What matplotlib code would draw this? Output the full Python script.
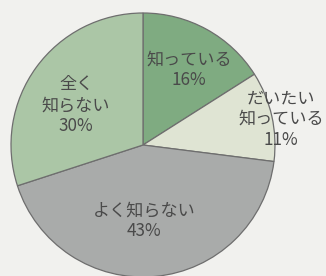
import matplotlib
matplotlib.use("Agg")
import matplotlib.pyplot as plt

plt.rcParams['font.family'] = ['Noto Sans CJK JP', 'DejaVu Sans']

# データ（12時の位置から時計回り）
labels = ['知っている', 'だいたい\n知っている', 'よく知らない', '全く\n知らない']
values = [16, 11, 43, 30]
colors = ['#7fab81', '#dfe4d3', '#a9abaa', '#abc6a6']

# ラベルの位置（画像上のピクセル）
label_px = [(189, 70), (281, 119), (144, 221), (76, 105)]

W, H = 326, 276
cx, cy, r = 143, 145, 132  # 円の中心と半径（ピクセル）


def to_data(x, y):
    return (x - cx) / r, (cy - y) / r


fig = plt.figure(figsize=(W / 100, H / 100), dpi=100)
fig.patch.set_facecolor('#f1f1ee')
ax = fig.add_axes([0, 0, 1, 1])
ax.set_facecolor('#f1f1ee')

ax.pie(values, colors=colors, startangle=90, counterclock=False, radius=1,
       wedgeprops=dict(edgecolor='#6e6e6e', linewidth=0.9))

for lab, v, (x, y) in zip(labels, values, label_px):
    tx, ty = to_data(x, y)
    ax.text(tx, ty, f'{lab}\n{v}%', ha='center', va='center', fontsize=12.3,
            color='#4a4a4a', linespacing=1.2)

ax.set_xlim(-cx / r, (W - cx) / r)
ax.set_ylim(-(H - cy) / r, cy / r)
ax.set_aspect('equal')
ax.axis('off')

fig.savefig('out.png', dpi=100, facecolor=fig.get_facecolor())
